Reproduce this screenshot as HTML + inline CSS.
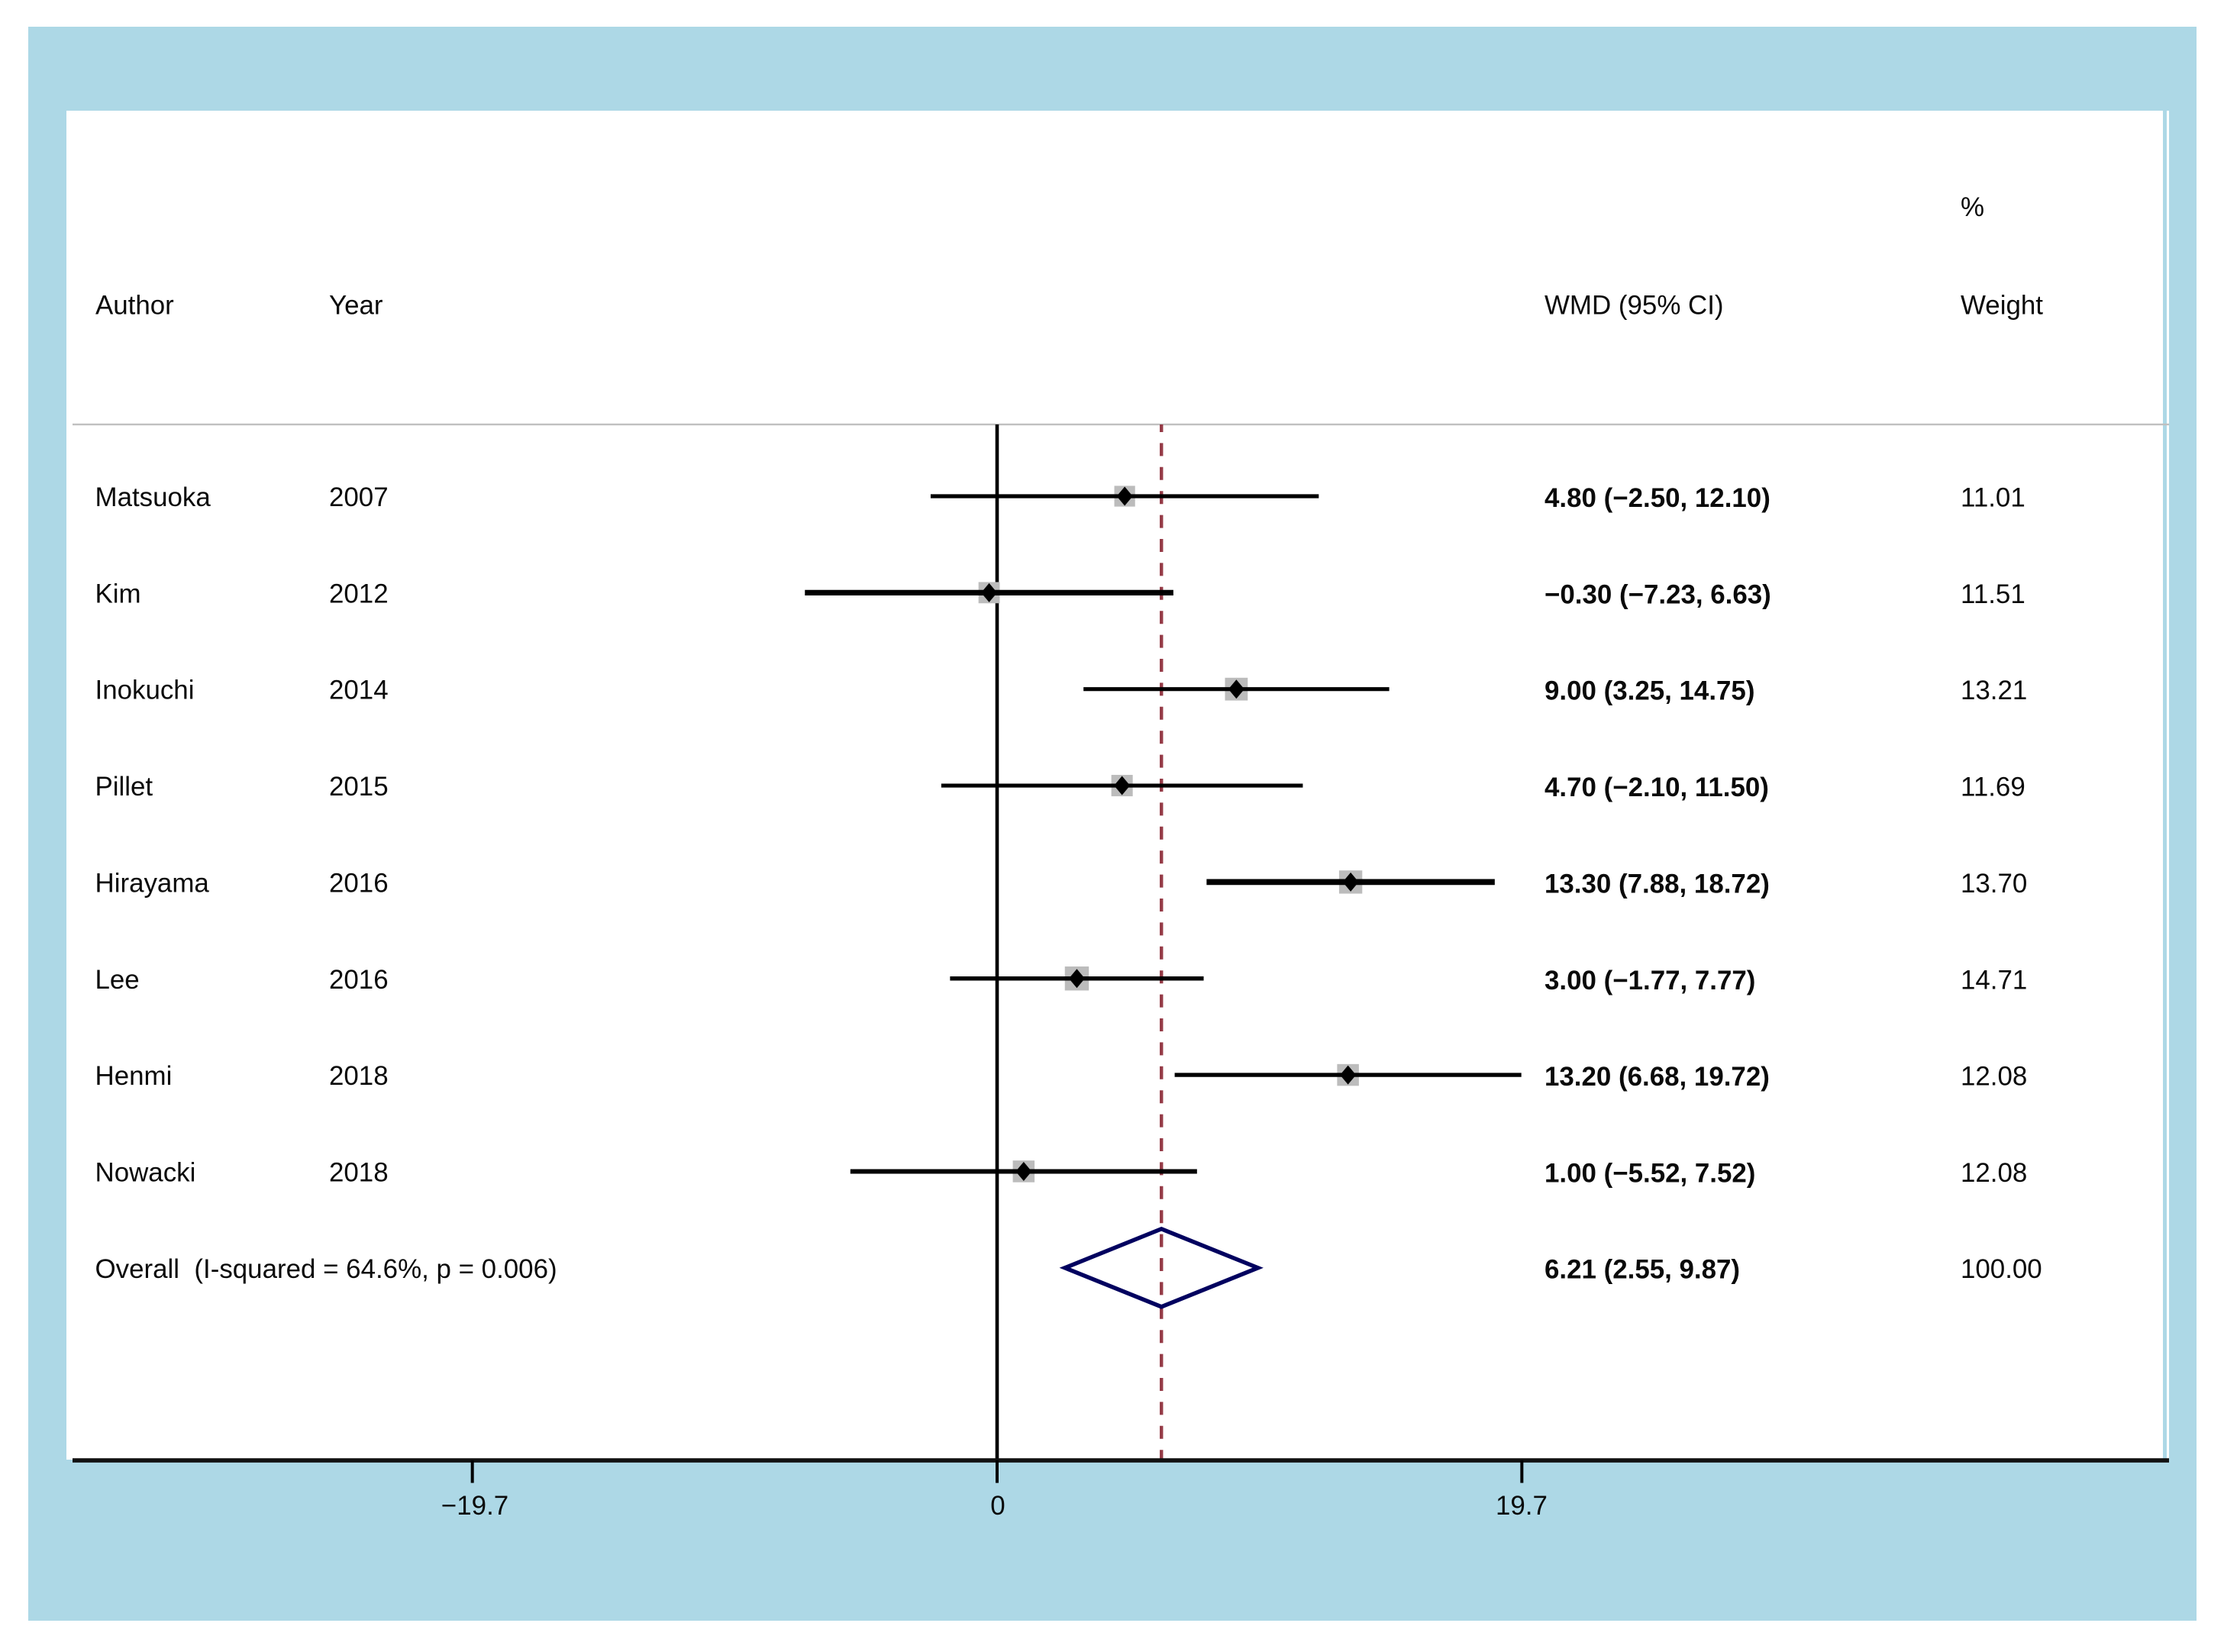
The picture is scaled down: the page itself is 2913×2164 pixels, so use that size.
<!DOCTYPE html>
<html lang="en">
<head>
<meta charset="utf-8">
<title>Forest plot of weighted mean differences</title>
<style>
  html, body { margin: 0; padding: 0; background: #ffffff; }
  body { width: 2913px; height: 2164px; overflow: hidden; }
  svg { display: block; }
  text { font-family: "Liberation Sans", Arial, sans-serif; font-size: 34.9px; fill: #0a0a0a; white-space: pre; }
  .bold { font-weight: 700; }
</style>
</head>
<body>
<svg id="forest" xmlns="http://www.w3.org/2000/svg" width="2913" height="2164" viewBox="0 0 2913 2164">
  <rect x="0" y="0" width="2913" height="2164" fill="#ffffff"/>
  <rect x="37" y="35" width="2840" height="2088" fill="#add8e6"/>
  <rect x="87" y="145" width="2746" height="1767" fill="#ffffff"/>
  <rect x="2838" y="145" width="3" height="1767" fill="#ffffff"/>
  <rect x="95" y="554.8" width="2746" height="2.4" fill="#c0c0c0"/>

  <text x="2568" y="283">%</text>
  <text x="125" y="411.5">Author</text>
  <text x="431" y="411.5">Year</text>
  <text x="2023" y="411.5">WMD (95% CI)</text>
  <text x="2568" y="411.5">Weight</text>

  <g id="reference-layer"></g>
  <g id="study-layer"></g>
  <g id="overall-layer"></g>
  <g id="axis-layer"></g>
</svg>

<script>
const authors = ["Matsuoka", "Kim", "Inokuchi", "Pillet", "Hirayama", "Lee", "Henmi", "Nowacki"];
const years = ["2007", "2012", "2014", "2015", "2016", "2016", "2018", "2018"];
const effects = [4.80, -0.30, 9.00, 4.70, 13.30, 3.00, 13.20, 1.00];
const ciLower = [-2.50, -7.23, 3.25, -2.10, 7.88, -1.77, 6.68, -5.52];
const ciUpper = [12.10, 6.63, 14.75, 11.50, 18.72, 7.77, 19.72, 7.52];
const weights = [11.01, 11.51, 13.21, 11.69, 13.70, 14.71, 12.08, 12.08];
const overallEffect = 6.21;
const overallLower = 2.55;
const overallUpper = 9.87;
const overallLabel = "Overall  (I-squared = 64.6%, p = 0.006)";
const overallWeight = 100.00;
const tickValues = [-19.7, 0, 19.7];
const tickLabels = ["\u221219.7", "0", "19.7"];

const NS = "http://www.w3.org/2000/svg";
const xZero = 1306;
const xPerUnit = 34.82;
const rowFirst = 650;
const rowStep = 126.35;
const plotTop = 556;
const axisY = 1913;
const barWidths = {0: 5.2, 1: 7.2, 2: 5.2, 3: 5.2, 4: 7.8, 5: 5.6, 6: 5.4, 7: 6};

function xScale(v) { return xZero + v * xPerUnit; }
function yScale(row) { return rowFirst + row * rowStep; }
function fmt(v) { return (v < 0 ? "\u2212" : "") + Math.abs(v).toFixed(2); }
function ciText(e, lo, hi) { return fmt(e) + " (" + fmt(lo) + ", " + fmt(hi) + ")"; }

function make(parent, tag, attrs, content) {
  const node = document.createElementNS(NS, tag);
  for (const key in attrs) node.setAttribute(key, attrs[key]);
  if (content !== undefined) node.textContent = content;
  parent.appendChild(node);
  return node;
}

const referenceLayer = document.getElementById("reference-layer");
const studyLayer = document.getElementById("study-layer");
const overallLayer = document.getElementById("overall-layer");
const axisLayer = document.getElementById("axis-layer");

const zeroLine = make(referenceLayer, "line", {x1: xScale(0), x2: xScale(0), y1: plotTop, y2: axisY, stroke: "#000000", "stroke-width": 4.6});



const overallLine = make(referenceLayer, "line", {x1: xScale(overallEffect) - 1, x2: xScale(overallEffect) - 1, y1: plotTop, y2: axisY, stroke: "#953b47", "stroke-width": 4.4, "stroke-dasharray": "17 14.4", "stroke-dashoffset": 7});



authors.forEach(function (author, i) {
  const y = yScale(i);
  const cx = xScale(effects[i]);
  const side = 8.2 * Math.sqrt(weights[i]);

  const box = make(studyLayer, "rect", {x: cx - side / 2, y: y - side / 2, width: side, height: side, fill: "#bcbcbc"});
  
  

  const ci = make(studyLayer, "line", {x1: xScale(ciLower[i]), x2: xScale(ciUpper[i]), y1: y, y2: y, stroke: "#000000", "stroke-width": barWidths[i]});
  
  

  const point = make(studyLayer, "polygon", {points: [cx - 10.5, y, cx, y - 12.5, cx + 10.5, y, cx, y + 12.5].join(" "), fill: "#000000"});
  
  

  const nameText = make(studyLayer, "text", {x: 124.5, y: y + 13}, author);
  
  

  const yearText = make(studyLayer, "text", {x: 431, y: y + 13}, years[i]);
  
  

  const effectText = make(studyLayer, "text", {x: 2023, y: y + 14, class: "bold"}, ciText(effects[i], ciLower[i], ciUpper[i]));
  
  

  const weightText = make(studyLayer, "text", {x: 2568, y: y + 13.5}, weights[i].toFixed(2));
  
  
});

const overallY = yScale(authors.length);
const overallDiamond = make(overallLayer, "polygon", {
  points: [xScale(overallLower), overallY, xScale(overallEffect) - 1, overallY - 51, xScale(overallUpper) - 2, overallY, xScale(overallEffect) - 1, overallY + 51].join(" "),
  fill: "none", stroke: "#00005f", "stroke-width": 5.4
});



const overallName = make(overallLayer, "text", {x: 124.5, y: overallY + 13}, overallLabel);



const overallEffectText = make(overallLayer, "text", {x: 2023, y: overallY + 13.5, class: "bold"}, ciText(overallEffect, overallLower, overallUpper));



const overallWeightText = make(overallLayer, "text", {x: 2568, y: overallY + 13}, overallWeight.toFixed(2));



const axisLine = make(axisLayer, "rect", {x: 95, y: axisY - 2.8, width: 2746, height: 5.6, fill: "#111111"});



tickValues.forEach(function (value, i) {
  const tick = make(axisLayer, "line", {x1: xScale(value * 1.002), x2: xScale(value * 1.002), y1: axisY, y2: 1942.5, stroke: "#000000", "stroke-width": 4});
  
  

  const label = make(axisLayer, "text", {x: xScale(value) + (value < 0 ? 2 : 1), y: 1984, "text-anchor": "middle"}, tickLabels[i]);
  
  
});
</script>
</body>
</html>
